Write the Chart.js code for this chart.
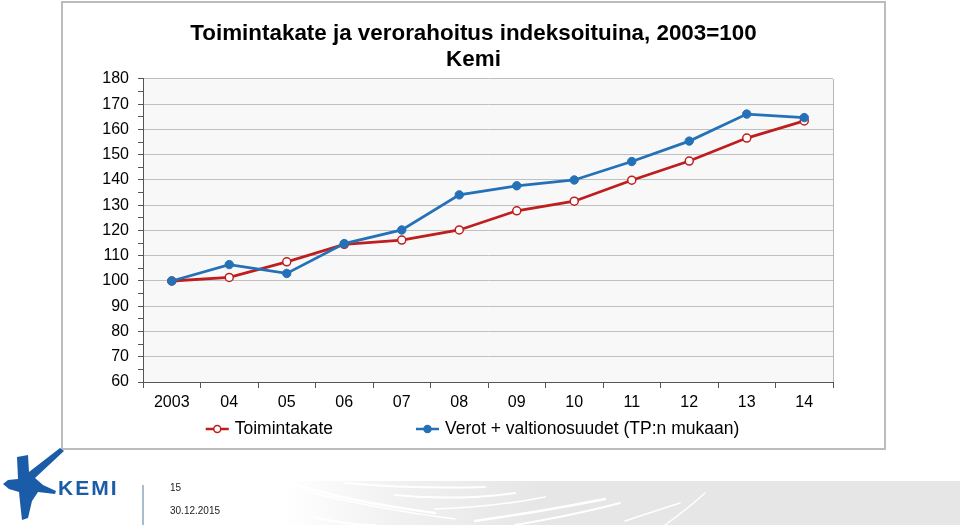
<!DOCTYPE html>
<html>
<head>
<meta charset="utf-8">
<script src="https://cdn.jsdelivr.net/npm/chart.js@4.4.1/dist/chart.umd.min.js"></script>
<style>
  html, body { margin: 0; padding: 0; background: #ffffff; width: 960px; height: 525px; overflow: hidden; font-family: "Liberation Sans", Arial, sans-serif; }
  #box { position: absolute; left: 61px; top: 1px; width: 821px; height: 445px; border: 2px solid #bcbcbc; background: #fff; }
  #wrap { position: absolute; left: 0; top: 0; width: 821px; height: 445px; }
  #band { position: absolute; left: 285px; top: 481px; width: 675px; height: 44px;
          background: linear-gradient(to right, rgba(230,230,230,0) 0px, rgba(230,230,230,0.6) 120px, #e6e6e6 260px); }
  #kemi { position: absolute; left: 58px; top: 476px; font: bold 21px "Liberation Sans", Arial, sans-serif; color: #1b5ca8; letter-spacing: 2px; }
  #divider { position: absolute; left: 142px; top: 485px; width: 2px; height: 40px; background: #a9bccd; }
  .foot { position: absolute; left: 170px; font: 10px "Liberation Sans", Arial, sans-serif; color: #222; }
</style>
</head>
<body>
<div id="band">
  <svg width="675" height="44" style="position:absolute;left:0;top:0">
    <g stroke="#ffffff" stroke-linecap="round" fill="none">
      <path d="M5 2 Q60 20 150 32" stroke-width="2.5"/>
      <path d="M20 10 Q90 28 170 38" stroke-width="1.5"/>
      <path d="M60 2 Q130 8 200 6" stroke-width="2"/>
      <path d="M110 14 Q170 20 230 12" stroke-width="2"/>
      <path d="M150 28 Q210 26 260 16" stroke-width="1.5"/>
      <path d="M190 40 Q260 30 320 18" stroke-width="2.5"/>
      <path d="M230 44 Q290 34 335 22" stroke-width="2"/>
      <path d="M30 36 Q60 44 90 44" stroke-width="2"/>
      <path d="M340 40 Q370 30 395 22" stroke-width="1.5"/>
      <path d="M380 44 Q400 30 420 12" stroke-width="1.5"/>
    </g>
  </svg>
</div>
<div id="box"><div id="wrap"><canvas id="c" width="821" height="445"></canvas></div></div>
<svg style="position:absolute;left:0;top:445px" width="70" height="80">
  <path fill="#1b5ca8" d="M17 12 L28 10 L29 27 L60 3 L64 6 L35 33 L43 40 L56 46 L55 49 L38 47 L32 56 L28 73 L22 75 L20 57 L19 47 L9 44 L3 39 L8 35 L18 34 Z"/>
</svg>
<div id="kemi">KEMI</div>
<div id="divider"></div>
<div class="foot" style="top:482px">15</div>
<div class="foot" style="top:505px">30.12.2015</div>
<script>
const categories = ['2003', '04', '05', '06', '07', '08', '09', '10', '11', '12', '13', '14'];
const toimintakate = [100, 101.4, 107.6, 114.5, 116.2, 120.2, 127.8, 131.6, 139.9, 147.5, 156.6, 163.4];
const verot = [100, 106.5, 103.0, 114.8, 120.2, 134.1, 137.7, 140.0, 147.3, 155.4, 166.1, 164.7];
const seriesNames = ['Toimintakate', 'Verot + valtionosuudet (TP:n mukaan)'];
const yMin = 60, yMax = 180, yMajor = 10, yMinor = 5;

const RED = '#bf1e1e';
const BLUE = '#2471b8';
const FONT = '"Liberation Sans", Arial, sans-serif';

const plotBg = {
  id: 'plotBg',
  beforeDraw(chart) {
    const {ctx, chartArea: a} = chart;
    ctx.save();
    ctx.fillStyle = '#f8f8f8';
    ctx.fillRect(a.left, a.top, a.right - a.left, a.bottom - a.top);
    ctx.restore();
  },
  afterDatasetsDraw(chart) {
    const {ctx, chartArea: a} = chart;
    ctx.save();
    ctx.strokeStyle = '#b8b8b8';
    ctx.lineWidth = 1;
    ctx.beginPath();
    ctx.moveTo(Math.round(a.right) + 0.5, a.top);
    ctx.lineTo(Math.round(a.right) + 0.5, a.bottom);
    ctx.stroke();
    ctx.restore();
  }
};

const customLegend = {
  id: 'customLegend',
  afterDraw(chart) {
    const {ctx} = chart;
    ctx.save();
    ctx.font = '17.5px ' + FONT;
    ctx.textBaseline = 'middle';
    const markW = 23, gap = 6, itemGap = 83;
    const ds = chart.data.datasets;
    const items = [ds.find(d => d.label === seriesNames[0]), ds.find(d => d.label === seriesNames[1])];
    const widths = items.map(d => ctx.measureText(d.label).width);
    const total = widths.reduce((s, w) => s + markW + gap + w, 0) + itemGap * (items.length - 1);
    let x = (chart.width - total) / 2 - 1;
    const y = 426;
    items.forEach((d, i) => {
      ctx.strokeStyle = d.borderColor;
      ctx.lineWidth = 2.5;
      ctx.beginPath();
      ctx.moveTo(x, y); ctx.lineTo(x + markW, y);
      ctx.stroke();
      ctx.beginPath();
      ctx.arc(x + markW / 2, y, 3.5, 0, Math.PI * 2);
      ctx.fillStyle = d.pointBackgroundColor;
      ctx.fill();
      ctx.lineWidth = 1.5;
      ctx.strokeStyle = d.pointBorderColor;
      ctx.stroke();
      ctx.fillStyle = '#000';
      ctx.fillText(d.label, x + markW + gap, y);
      x += markW + gap + widths[i] + itemGap;
    });
    ctx.restore();
  }
};

new Chart(document.getElementById('c'), {
  type: 'line',
  data: {
    labels: categories,
    datasets: [
      {
        label: seriesNames[0], data: toimintakate, order: 1,
        borderColor: RED, borderWidth: 2.8,
        pointBackgroundColor: '#ffffff', pointBorderColor: RED, pointBorderWidth: 1.5,
        pointRadius: 4, tension: 0
      },
      {
        label: seriesNames[1], data: verot, order: 0,
        borderColor: BLUE, borderWidth: 2.8,
        pointBackgroundColor: BLUE, pointBorderColor: BLUE, pointBorderWidth: 1,
        pointRadius: 4.2, tension: 0
      }
    ]
  },
  options: {
    responsive: false,
    animation: false,
    devicePixelRatio: 1,
    layout: { padding: { left: 0, right: 0, top: 0, bottom: 26 } },
    plugins: {
      legend: { display: false },
      tooltip: { enabled: false },
      title: {
        display: true,
        text: ['Toimintakate ja verorahoitus indeksoituina, 2003=100', 'Kemi'],
        color: '#000',
        font: { family: FONT, size: 22.4, weight: 'bold', lineHeight: 1.16 },
        padding: { top: 18, bottom: 6 }
      }
    },
    scales: {
      x: {
        offset: true,
        grid: { offset: true, drawOnChartArea: false, color: '#555', tickLength: 6 },
        border: { color: '#555', width: 1 },
        ticks: { color: '#000', font: { family: FONT, size: 16 }, padding: 5, maxRotation: 0, autoSkip: false },
        afterFit(s) { s.height = 40; }
      },
      y: {
        min: yMin, max: yMax,
        grid: {
          color: c => (c.tick && c.tick.value % yMajor === 0) ? '#bfbfbf' : 'rgba(0,0,0,0)',
          tickColor: '#555', tickLength: 5
        },
        border: { color: '#555', width: 1 },
        ticks: {
          stepSize: yMinor, autoSkip: false, color: '#000',
          font: { family: FONT, size: 16 }, padding: 9,
          callback: v => (v % yMajor === 0 ? String(v) : '')
        },
        afterFit(s) { s.width = 80; }
      },
      yRight: {
        position: 'right',
        min: yMin, max: yMax,
        grid: { display: false, drawTicks: false },
        border: { display: false },
        ticks: { display: false },
        afterFit(s) { s.width = 51; }
      }
    }
  },
  plugins: [plotBg, customLegend]
});
</script>
</body>
</html>
